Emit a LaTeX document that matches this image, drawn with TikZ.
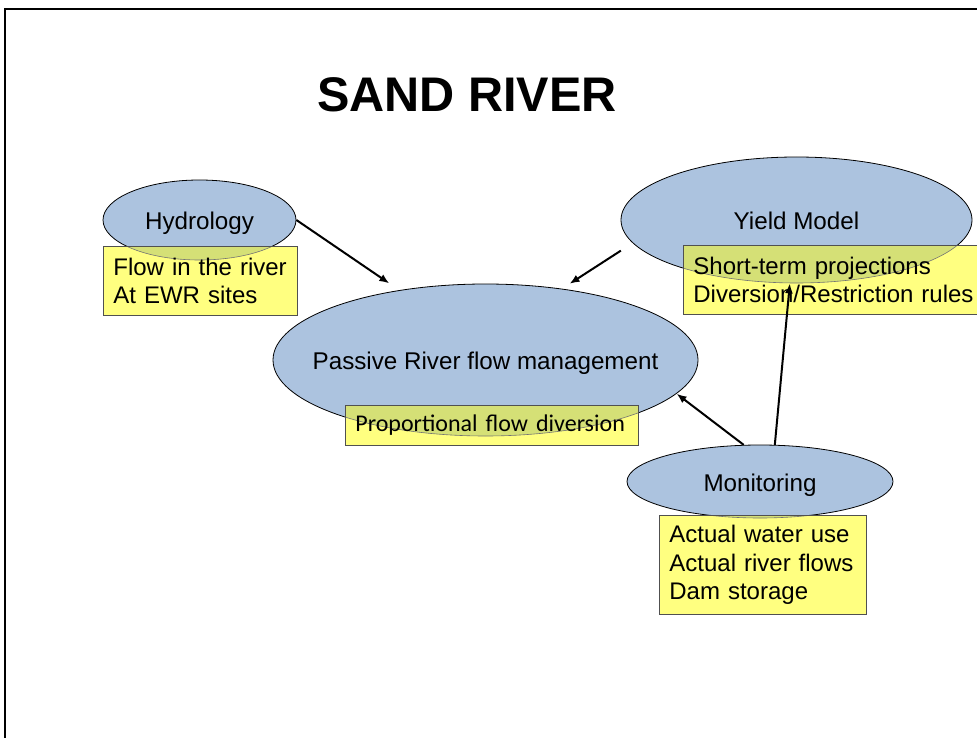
\documentclass[tikz,border=0pt]{standalone}
\usepackage{fontspec}
\setmainfont{Liberation Sans}
\newfontfamily\calfont{Carlito}
\usetikzlibrary{shapes.geometric,arrows.meta}
\definecolor{ellblue}{RGB}{172,195,223}
\definecolor{boxyel}{RGB}{255,255,128}
\definecolor{overlapc}{RGB}{213,224,118}
\definecolor{boxline}{RGB}{80,80,80}
\newcommand{\elltext}[1]{\makebox[0pt]{\raisebox{-2pt}{#1}}}
\begin{document}
\begin{tikzpicture}[x=1pt,y=-1pt,
  ell/.style={ellipse, draw=black, line width=0.8pt, fill=ellblue, inner sep=0pt,
    font=\fontsize{24.2}{29}\selectfont, text depth=0pt},
  yelbox/.style={rectangle, draw=boxline, line width=0.8pt, fill=boxyel, anchor=north west,
    inner xsep=10pt, inner ysep=0pt, align=left, font=\fontsize{24}{28.8}\selectfont},
  arr/.style={-{Latex[length=10pt,width=8pt]}, line width=2pt, black}]
\useasboundingbox (0,0) rectangle (977,738);
\draw[line width=2.5pt] (5,738) -- (5,9) -- (977,9);
\node[font=\fontsize{48.6}{58}\selectfont\bfseries] (title) at (467,95) {SAND RIVER};
% ellipses
\node[ell, minimum width=193pt, minimum height=80pt] (hyd) at (199.5,220) {\elltext{Hydrology}};
\node[ell, minimum width=351pt, minimum height=126pt] (yld) at (796.5,220) {\elltext{Yield Model}};
\node[ell, minimum width=425pt, minimum height=152pt] (pas) at (485.5,360) {\elltext{Passive River flow management}};
\node[ell, minimum width=266pt, minimum height=73pt] (mon) at (760,481.5) {\elltext{Monitoring}};
% boxes
\node[yelbox, text width=174pt, minimum height=69pt,
  path picture={\fill[overlapc] (hyd.center) ellipse[x radius=96.5pt, y radius=40pt];
    \draw[line width=0.6pt, black!55] (hyd.center) ellipse[x radius=96.5pt, y radius=40pt];}]
  (hydbox) at (103,246) {\mbox{Flow in the river}\\\mbox{At EWR sites}};
\node[yelbox, text width=290pt, minimum height=69pt,
  path picture={\fill[overlapc] (yld.center) ellipse[x radius=175.5pt, y radius=63pt];
    \draw[line width=0.6pt, black!55] (yld.center) ellipse[x radius=175.5pt, y radius=63pt];}]
  (yldbox) at (683,245) {\mbox{Short-term projections}\\\mbox{Diversion/Restriction rules}};
\node[yelbox, text width=273pt, minimum height=40pt, font=\calfont\fontsize{24}{29}\selectfont,
  path picture={\fill[overlapc] (pas.center) ellipse[x radius=212.5pt, y radius=76pt];
    \draw[line width=0.6pt, black!55] (pas.center) ellipse[x radius=212.5pt, y radius=76pt];}]
  (pasbox) at (345,405) {\mbox{Proportional flow diversion}};
\node[yelbox, text width=187pt, minimum height=99pt,
  path picture={\fill[overlapc] (mon.center) ellipse[x radius=133pt, y radius=36.5pt];
    \draw[line width=0.6pt, black!55] (mon.center) ellipse[x radius=133pt, y radius=36.5pt];}]
  (monbox) at (659,515) {\mbox{Actual water use}\\\mbox{Actual river flows}\\\mbox{Dam storage}};
% arrows
\draw[arr, shorten >=12pt] (hyd.east) -- (pas.141);
\draw[arr, shorten <=14pt, shorten >=9pt] (yld.188) -- (pas.43);
\draw[arr] (mon.114) -- (pas.350);
\draw[arr] (mon.68) -- (yld.264);
\end{tikzpicture}
\end{document}
